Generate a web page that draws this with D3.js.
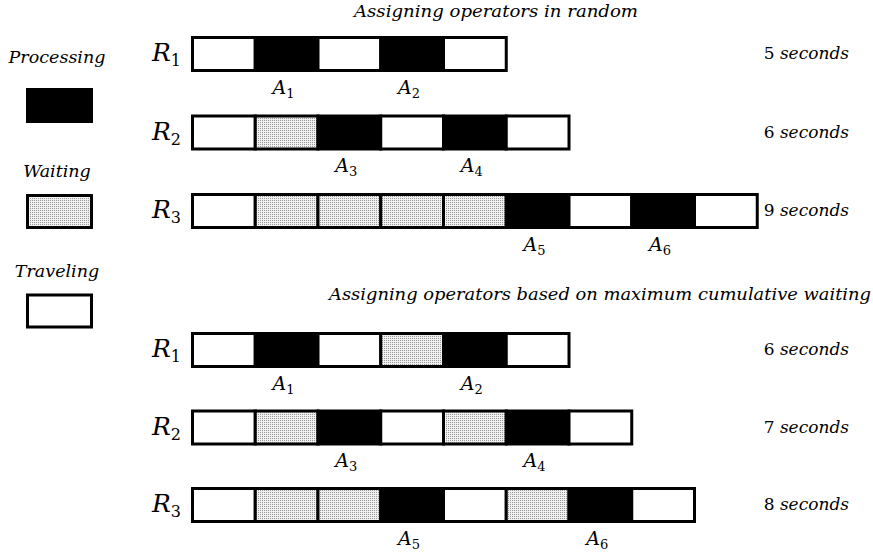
<!DOCTYPE html>
<html><head><meta charset="utf-8">
<script src="https://cdn.jsdelivr.net/npm/d3@7"></script>
<style>html,body{margin:0;padding:0;background:#fff;}svg{display:block;}</style>
</head><body>
<svg id="chart" width="873" height="553"></svg>
<script>
// ---- data ----
const sectionTitles = ["Assigning operators in random", "Assigning operators based on maximum cumulative waiting"];
const robots = ["1", "2", "3"];
const legendStates = ["Processing", "Waiting", "Traveling"];
const legendCodes = ["P", "W", "T"];
const randomSeq = [
  ["T","P","T","P","T"],
  ["T","W","P","T","P","T"],
  ["T","W","W","W","W","P","T","P","T"]
];
const cumulativeSeq = [
  ["T","P","T","W","P","T"],
  ["T","W","P","T","W","P","T"],
  ["T","W","W","P","T","W","P","T"]
];
const randomTimes = [5, 6, 9];
const cumulativeTimes = [6, 7, 8];
const jobLabels = [["1","2"],["3","4"],["5","6"]];

// ---- layout ----
const svg = d3.select("#chart");
const FONT = "'DejaVu Serif', serif";
const segW = 62.75;
const x = d3.scaleLinear().domain([0, 9]).range([192.5, 192.5 + segW * 9]);
const barH = 33;
const sections = [
  {title: sectionTitles[0], seq: randomSeq, times: randomTimes, titleX: 496, titleY: 17, titleLen: 284,
   y: d3.scalePoint().domain(robots).range([54, 211])},
  {title: sectionTitles[1], seq: cumulativeSeq, times: cumulativeTimes, titleX: 600, titleY: 300, titleLen: 542,
   y: d3.scalePoint().domain(robots).range([350, 505])}
];

const defs = svg.append("defs");
const pat = defs.append("pattern").attr("id", "stipple").attr("patternUnits", "userSpaceOnUse")
  .attr("width", 2).attr("height", 2);
pat.append("rect").attr("width", 2).attr("height", 2).attr("fill", "#f0f0f0");
pat.append("rect").attr("width", 1).attr("height", 1).attr("fill", "#999");

const fillFor = c => c === "P" ? "#000" : (c === "W" ? "url(#stipple)" : "#fff");

sections.forEach(sec => {
  svg.append("text").attr("x", sec.titleX).attr("y", sec.titleY)
    .attr("text-anchor", "middle").attr("font-family", FONT).attr("font-style", "italic")
    .attr("font-size", 16).attr("textLength", sec.titleLen).attr("lengthAdjust", "spacingAndGlyphs")
    .text(sec.title);

  sec.seq.forEach((seq, ri) => {
    const r = robots[ri];
    const cy = sec.y(r);
    const g = svg.append("g");
    g.selectAll("rect").data(seq).join("rect")
      .attr("x", (d, i) => x(i)).attr("y", cy - barH / 2)
      .attr("width", x(1) - x(0)).attr("height", barH)
      .attr("fill", d => fillFor(d)).attr("stroke", "#000").attr("stroke-width", 3);

    // robot label
    const rl = svg.append("text").attr("x", 152).attr("y", cy + 7)
      .attr("font-family", FONT).attr("font-size", 25);
    rl.append("tspan").attr("font-style", "italic").text("R");
    rl.append("tspan").attr("font-size", 16).attr("dy", 5).text(r);

    // job labels under processing segments
    const pIdx = seq.map((d, i) => d === "P" ? i : -1).filter(i => i >= 0);
    pIdx.forEach((pi, k) => {
      const t = svg.append("text").attr("x", x(pi + 0.5) - 3).attr("y", cy + barH / 2 + 23)
        .attr("text-anchor", "middle").attr("font-family", FONT).attr("font-size", 19);
      t.append("tspan").attr("font-style", "italic").text("A");
      t.append("tspan").attr("font-size", 13).attr("dy", 4).text(jobLabels[ri][k]);
    });

    // duration
    const dt = svg.append("text").attr("x", 849).attr("y", cy + 5)
      .attr("text-anchor", "end").attr("font-family", FONT).attr("font-size", 17);
    dt.append("tspan").text(sec.times[ri] + " ");
    dt.append("tspan").attr("font-style", "italic").text("seconds");
  });
});

// ---- legend ----
const legTextY = [63, 177, 277];
const boxY = [105.5, 211.5, 311];
legendStates.forEach((s, i) => {
  svg.append("text").attr("x", 57).attr("y", legTextY[i]).attr("text-anchor", "middle")
    .attr("font-family", FONT).attr("font-style", "italic").attr("font-size", 17.5).text(s);
  svg.append("rect").attr("x", 27.5).attr("y", boxY[i] - 16).attr("width", 64).attr("height", 32)
    .attr("fill", fillFor(legendCodes[i])).attr("stroke", "#000").attr("stroke-width", 3);
});
</script>
</body></html>
